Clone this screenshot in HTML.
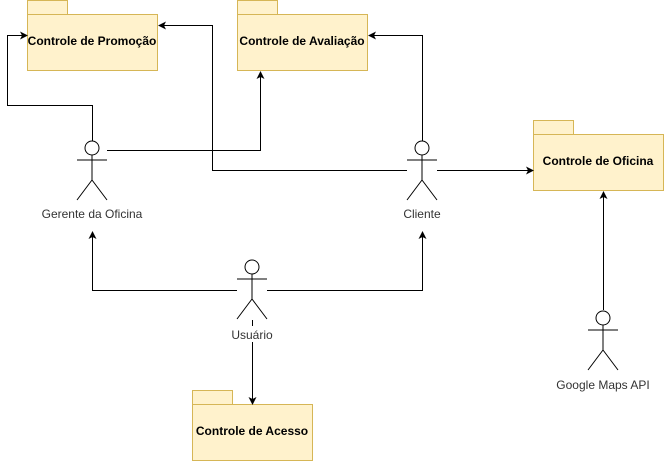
<!DOCTYPE html>
<html><head><style>body{margin:0;background:#fff}svg{display:block}</style></head><body>
<svg width="664" height="461" viewBox="0 0 664 461" xmlns="http://www.w3.org/2000/svg">
<defs><marker id="a" markerWidth="8" markerHeight="8" refX="7" refY="4" orient="auto" markerUnits="userSpaceOnUse"><path d="M0,0 L8,4 L0,8 L2,4 Z" fill="#000"/></marker></defs>
<g fill="#fff2cc" stroke="#d6b656">
<rect x="27.5" y="0.5" width="40" height="14"/><rect x="27.5" y="14.5" width="130" height="56"/>
<rect x="237.5" y="0.5" width="40" height="14"/><rect x="237.5" y="14.5" width="130" height="56"/>
<rect x="533.5" y="120.5" width="40" height="14"/><rect x="533.5" y="134.5" width="130" height="56"/>
<rect x="192.5" y="390.5" width="40" height="14"/><rect x="192.5" y="404.5" width="120" height="56"/>
</g>
<g font-family="Liberation Sans, sans-serif" font-size="12" font-weight="bold" fill="#000" text-anchor="middle">
<text x="92" y="45">Controle de Promoção</text>
<text x="302" y="45">Controle de Avaliação</text>
<text x="598" y="165">Controle de Oficina</text>
<text x="252" y="435">Controle de Acesso</text>
</g>
<g stroke="#000" fill="none" stroke-width="1">
<g id="act"><circle cx="92" cy="148" r="7" fill="#fff"/><path d="M92 155V180M77 160H107M92 180L77 200M92 180L107 200"/></g>
<use href="#act" x="330"/>
<use href="#act" x="160" y="119"/>
<use href="#act" x="511" y="170"/>
</g>
<g font-family="Liberation Sans, sans-serif" font-size="12" fill="#333" text-anchor="middle">
<text x="92" y="218">Gerente da Oficina</text>
<text x="422" y="218">Cliente</text>
<text x="252" y="339">Usuário</text>
<text x="603" y="389">Google Maps API</text>
</g>
<g stroke="#000" fill="none" stroke-width="1" marker-end="url(#a)">
<path d="M92.5 141V105.5H7.5V35.5H27"/>
<path d="M107 150.5H260.5V72"/>
<path d="M407 170.5H212.5V25.5H159"/>
<path d="M422.5 141V35.5H369"/>
<path d="M437 170.5H533"/>
<path d="M237 290.5H92.5V232"/>
<path d="M267 290.5H422.5V232"/>
<path d="M252.5 342V404"/>
<path d="M603.5 310V192"/>
</g>
<path d="M252.5 320V326" stroke="#000"/>
</svg>
</body></html>
